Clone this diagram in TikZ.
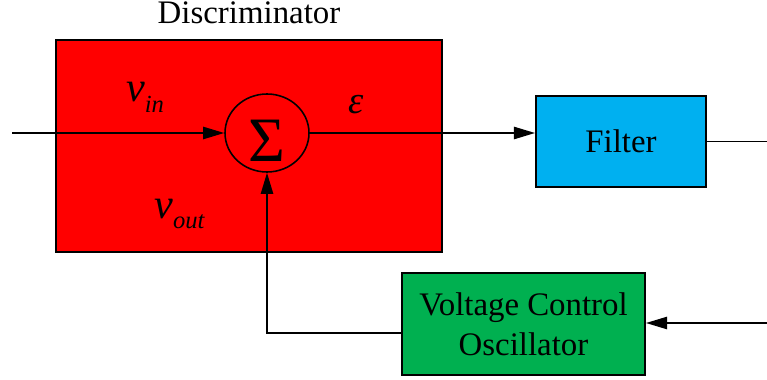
\documentclass[tikz,border=0pt]{standalone}
\usepackage{fontspec}
\setmainfont{Liberation Serif}
\usetikzlibrary{arrows.meta,positioning,shapes.geometric}
\definecolor{discred}{RGB}{255,0,0}
\definecolor{filterblue}{RGB}{0,176,240}
\definecolor{vcogreen}{RGB}{0,176,80}
\newcommand{\sigvar}[2]{{\fontsize{24}{28}\selectfont\itshape #1}\raisebox{-6pt}{\fontsize{14}{16}\selectfont\itshape #2}}
\begin{document}
\begin{tikzpicture}[
			>={Triangle[length=12pt,width=7pt]},
			block/.style={
				draw, line width=1.1pt,
				font=\fontsize{18.7}{22.7}\selectfont,
				align=center, inner sep=0pt
			},
			sum node/.style={
				draw, ellipse, line width=0.9pt,
				minimum width=1.68cm, minimum height=1.56cm
			},
			var node/.style={inner sep=0pt},
			line/.style={line width=0.9pt}
			]
			\useasboundingbox (0,0) rectangle (15.34,-7.6);
			
			\node[block, fill=discred, minimum width=7.72cm, minimum height=4.24cm] (disc) at (4.98,-2.92) {};
			\node[above=0.3cm of disc, inner sep=0pt, font=\fontsize{18.7}{22.7}\selectfont] (title) {Discriminator};
			
			\node[sum node] (sum) at (5.34,-2.66) {};
			\node[inner sep=0pt, font=\fontsize{36}{40}\selectfont] (sigma) at ([yshift=-0.16cm]sum.center) {Σ};
			
			\node[block, fill=filterblue, minimum width=3.4cm, minimum height=1.82cm] (filter) at (12.42,-2.83) {Filter};
			\node[block, fill=vcogreen, minimum width=4.86cm, minimum height=2.04cm] (vco) at (10.47,-6.48) {Voltage Control\\Oscillator};
			
			\coordinate (in) at (0.24,-2.66);
			\coordinate (out) at (15.4,-2.84);
			\coordinate (fb) at (15.4,-6.46);
			
			\node[var node] (vin) at (2.9,-1.95) {\sigvar{v}{in}};
			\node[var node] (vout) at (3.59,-4.28) {\sigvar{v}{out}};
			\node[var node, font=\fontsize{22}{26}\selectfont\itshape] (eps) at (7.12,-2.1) {ε};
			
			\draw[line, ->] (in) -- (sum.west);
			\draw[line, ->] (sum.east) -- (sum.east -| filter.west);
			\draw[line] (filter.east) -- (filter.east -| out);
			\draw[line, ->] (fb) -- (fb -| vco.east);
			\draw[line, ->] ([yshift=-0.18cm]vco.west) -| (sum.south);
			
		\end{tikzpicture}
\end{document}
